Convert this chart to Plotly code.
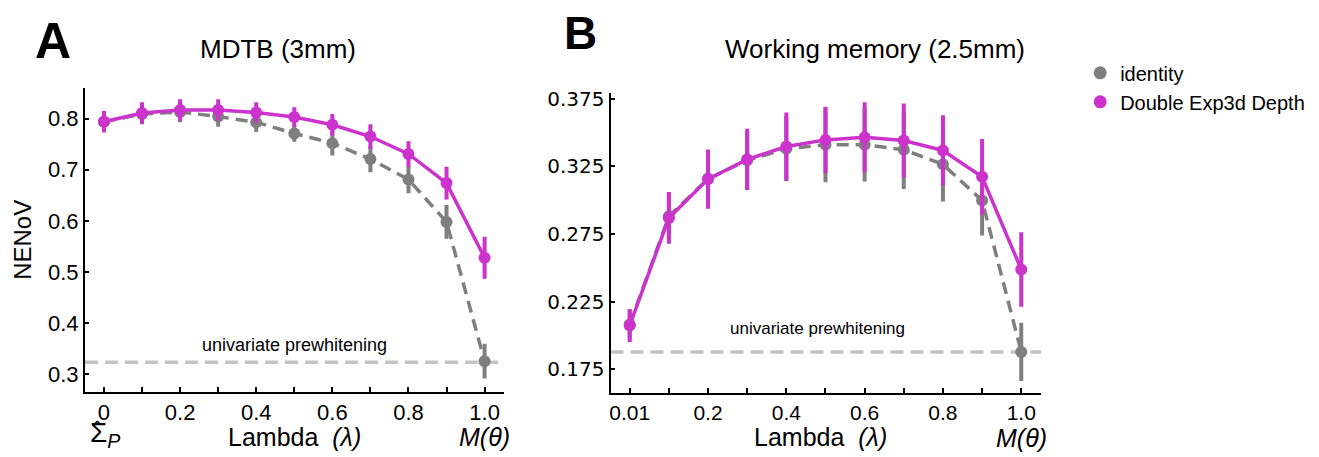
import plotly.graph_objects as go

# ---------------- data ----------------
lambda_A = [0.0, 0.1, 0.2, 0.3, 0.4, 0.5, 0.6, 0.7, 0.8, 0.9, 1.0]
tick_vals_A = [0.0, 0.2, 0.4, 0.6, 0.8, 1.0]
tick_text_A = ["0", "0.2", "0.4", "0.6", "0.8", "1.0"]

identity_A = [0.794, 0.809, 0.813, 0.804, 0.793, 0.771, 0.752, 0.721, 0.681, 0.598, 0.326]
identity_A_err = [0.020, 0.020, 0.020, 0.020, 0.019, 0.016, 0.024, 0.026, 0.027, 0.033, 0.034]
dexp_A = [0.794, 0.811, 0.817, 0.817, 0.812, 0.803, 0.788, 0.765, 0.731, 0.674, 0.528]
dexp_A_err = [0.021, 0.021, 0.021, 0.021, 0.020, 0.019, 0.021, 0.024, 0.025, 0.032, 0.041]
univariate_A = 0.324
yticks_A = [0.3, 0.4, 0.5, 0.6, 0.7, 0.8]

# panel B: lambda values are shown at evenly spaced positions
lambda_B = ["0.01", "0.1", "0.2", "0.3", "0.4", "0.5", "0.6", "0.7", "0.8", "0.9", "1.0"]
tick_text_B = ["0.01", "0.2", "0.4", "0.6", "0.8", "1.0"]
identity_B = [0.208, 0.2881, 0.3158, 0.3295, 0.338, 0.341, 0.341, 0.3373, 0.3265, 0.2998, 0.1878]
identity_B_err = [0.011, 0.017, 0.021, 0.022, 0.024, 0.0277, 0.0272, 0.029, 0.0275, 0.026, 0.0215]
dexp_B = [0.2073, 0.2869, 0.3156, 0.3302, 0.3397, 0.3446, 0.3465, 0.3441, 0.3368, 0.3173, 0.2487]
dexp_B_err = [0.0122, 0.0192, 0.0219, 0.0227, 0.0252, 0.0246, 0.0259, 0.0275, 0.026, 0.028, 0.0275]
univariate_B = 0.1878
yticks_B = [0.175, 0.225, 0.275, 0.325, 0.375]
yticktext_B = ["0.175", "0.225", "0.275", "0.325", "0.375"]

series_names = ["identity", "Double Exp3d Depth"]

# even positions for panel B's lambda values
pos_B = [i / (len(lambda_B) - 1) for i in range(len(lambda_B))]
tickpos_B = pos_B[::2]

# ---------------- style ----------------
W, H = 1319, 457
GREY = "#7f7f7f"
MAG = "#cc33cc"
LIGHT = "#c3c3c3"
FONT = "Liberation Sans, Arial, sans-serif"


def px_x(p):
    return p / W


def px_y(p):
    return 1 - p / H


fig = go.Figure()


def add_series(x, y, err, color, dash, xa, ya):
    fig.add_trace(go.Scatter(
        x=x, y=y, mode="lines+markers", xaxis=xa, yaxis=ya,
        line=dict(color=color, width=3.5, dash=dash),
        marker=dict(color=color, size=12),
        error_y=dict(type="data", array=err, visible=True, color=color,
                     thickness=4, width=0),
        showlegend=False, hoverinfo="skip"))


add_series(lambda_A, identity_A, identity_A_err, GREY, "12px,7px", "x", "y")
add_series(lambda_A, dexp_A, dexp_A_err, MAG, "solid", "x", "y")
add_series(pos_B, identity_B, identity_B_err, GREY, "12px,7px", "x2", "y2")
add_series(pos_B, dexp_B, dexp_B_err, MAG, "solid", "x2", "y2")

# legend-only entries (dots)
for name, col in zip(series_names, [GREY, MAG]):
    fig.add_trace(go.Scatter(x=[None], y=[None], mode="markers", name=name,
                             marker=dict(color=col, size=13), xaxis="x2", yaxis="y2",
                             showlegend=True))

# univariate prewhitening reference lines
for xa, ya, val in [("x", "y", univariate_A), ("x2", "y2", univariate_B)]:
    fig.add_shape(type="line", xref=f"{xa} domain", yref=ya, x0=0, x1=1,
                  y0=val, y1=val, line=dict(color=LIGHT, width=3.5, dash="13px,7px"),
                  layer="below")

axis_common = dict(showline=True, linecolor="black", linewidth=2, showgrid=False,
                   zeroline=False, ticks="inside", tickwidth=2, tickcolor="black",
                   mirror=False)
minor_x = dict(dtick=0.1, tick0=0, ticks="inside", ticklen=5, tickwidth=2,
               tickcolor="black", showgrid=False)

fig.update_layout(
    width=W, height=H,
    margin=dict(l=0, r=0, t=0, b=0),
    paper_bgcolor="white", plot_bgcolor="white",
    font=dict(family=FONT, color="black"),
    xaxis=dict(domain=[px_x(84), px_x(503)], range=[-0.05, 1.05], anchor="y",
               tickvals=tick_vals_A, ticktext=tick_text_A, ticklen=5,
               tickfont=dict(size=22), minor=minor_x, **axis_common),
    yaxis=dict(domain=[px_y(391), px_y(83)], range=[0.266, 0.86], anchor="x",
               tickvals=yticks_A, ticklen=4, tickformat=".1f",
               tickfont=dict(size=22), **axis_common),
    xaxis2=dict(domain=[px_x(610), px_x(1041)], range=[-0.049, 1.051], anchor="y2",
                tickvals=tickpos_B, ticktext=tick_text_B, ticklen=5,
                tickfont=dict(size=21), minor=minor_x, **axis_common),
    yaxis2=dict(domain=[px_y(392), px_y(88)], range=[0.1575, 0.3794], anchor="x2",
                tickvals=yticks_B, ticktext=yticktext_B, ticklen=4,
                tickfont=dict(size=20, family="DejaVu Sans"), **axis_common),
    legend=dict(x=px_x(1080), y=px_y(48), xanchor="left", yanchor="top",
                font=dict(size=20), bgcolor="rgba(0,0,0,0)", itemwidth=30,
                tracegroupgap=0),
)

ann = []


def add_text(text, x, y, size, **kw):
    ann.append(dict(text=text, x=px_x(x), y=px_y(y), xref="paper", yref="paper",
                    showarrow=False, font=dict(size=size, family=kw.pop("family", FONT)),
                    xanchor=kw.pop("xanchor", "center"), yanchor=kw.pop("yanchor", "middle"), **kw))


add_text("<b>A</b>", 52, 35, 50)
add_text("<b>B</b>", 580, 27, 46)
add_text("MDTB (3mm)", 277, 44, 26)
add_text("Working memory (2.5mm)", 875, 44, 26)
add_text("NENoV", 22, 237, 24, textangle=-90)
add_text("Lambda  <i>(λ)</i>", 294, 437, 25)
add_text("Lambda  <i>(λ)</i>", 820, 437, 25)
add_text("<i>M(θ)</i>", 484, 437, 25)
add_text("<i>M(θ)</i>", 1021, 438, 25)
add_text("Σ<sub><i>P</i></sub>", 104, 434, 28)
add_text("ˆ", 97, 429, 20)
fig.update_layout(annotations=ann)

# in-plot labels (data coordinates)
fig.add_annotation(text="univariate prewhitening", x=0.5, y=univariate_A, xref="x", yref="y",
                   yshift=17, showarrow=False, font=dict(size=18))
fig.add_annotation(text="univariate prewhitening", x=0.48, y=univariate_B, xref="x2", yref="y2",
                   yshift=23, showarrow=False, font=dict(size=17))

fig.write_html("out.html")
